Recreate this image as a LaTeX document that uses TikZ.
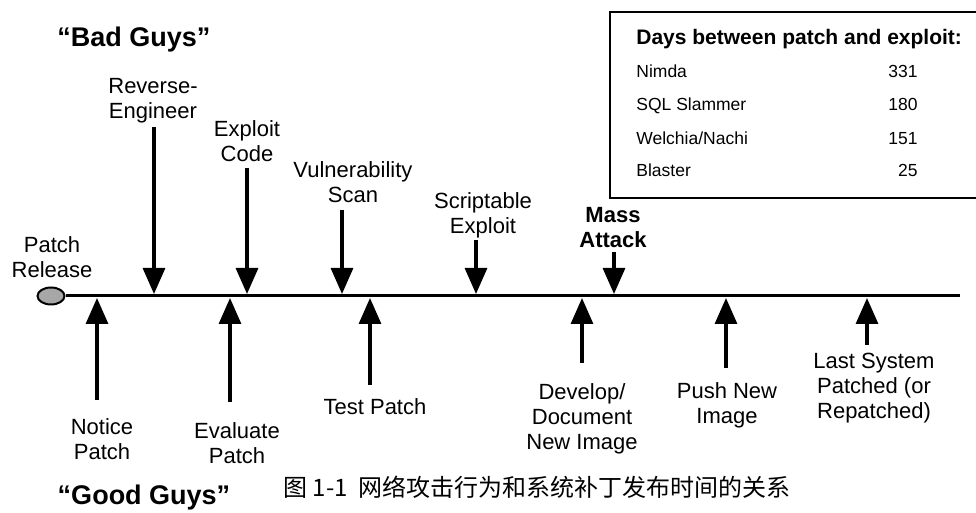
\documentclass[tikz,border=0pt]{standalone}
\usepackage{fontspec}
\setmainfont{Liberation Sans}
\newfontfamily\cjk{Noto Sans CJK SC}
\usetikzlibrary{arrows.meta,shapes.geometric}

\begin{document}
\begin{tikzpicture}[x=0.5pt,y=-0.5pt,>={Triangle[width=11pt,length=13pt]},
    event/.style={font=\fontsize{11}{12.5}\selectfont,align=center,inner sep=0pt},
    hit/.style={->,line width=1.6pt},
    guys/.style={font=\fontsize{13.5}{16}\selectfont\bfseries,inner sep=0pt,anchor=base},
    row/.style={font=\fontsize{8.75}{10}\selectfont,inner sep=0pt}]
  \useasboundingbox (0,0) rectangle (976,513);

  % timeline
  \node[ellipse,draw,line width=1pt,fill=gray!85!black!60,minimum width=13.5pt,
        minimum height=8.5pt,inner sep=0pt] (pr) at (51,296) {};
  \coordinate (end) at (960,296);
  \draw[line width=1.5pt] (pr.east) -- (end);
  \node[event,anchor=south] (prl) at (52,278) {Patch\\Release};

  \node[guys] (bad) at (134,47) {“Bad Guys”};
  \node[guys] (good) at (144,505) {“Good Guys”};

  % attacker side
  \coordinate (reT) at (154,294);
  \coordinate (ecT) at (247,294);
  \coordinate (vsT) at (342,294);
  \coordinate (seT) at (476,294);
  \coordinate (maT) at (614,294);

  \node[event,anchor=south] (re) at (153,123) {Reverse-\\Engineer};
  \node[event,anchor=south] (ec) at (247,162) {Exploit\\Code};
  \node[event,anchor=south] (vs) at (353,203) {Vulnerability\\Scan};
  \node[event,anchor=south] (se) at (483,238) {Scriptable\\Exploit};
  \node[event,anchor=south,font=\fontsize{11}{12.5}\selectfont\bfseries] (ma) at (613,248) {Mass\\Attack};

  \draw[hit,shorten <=2pt] (re.south -| reT) -- (reT);
  \draw[hit,shorten <=3pt] (ec.south -| ecT) -- (ecT);
  \draw[hit,shorten <=3.5pt] (vs.south -| vsT) -- (vsT);
  \draw[hit,shorten <=1pt] (se.south -| seT) -- (seT);
  \draw[hit,shorten <=2pt] (ma.south -| maT) -- (maT);

  % defender side
  \coordinate (npT) at (97,298);
  \coordinate (epT) at (230,298);
  \coordinate (tpT) at (370,298);
  \coordinate (ddT) at (582,298);
  \coordinate (pnT) at (726,298);
  \coordinate (lsT) at (867,298);

  \node[event,anchor=north] (np) at (102,418) {Notice\\Patch};
  \node[event,anchor=north] (ep) at (237,422) {Evaluate\\Patch};
  \node[event,anchor=north] (tp) at (375,398) {Test Patch};
  \node[event,anchor=north] (dd) at (582,383) {Develop/\\Document\\New Image};
  \node[event,anchor=north] (pn) at (727,382) {Push New\\Image};
  \node[event,anchor=north] (ls) at (874,353) {Last System\\Patched (or\\Repatched)};

  \draw[hit,shorten <=9pt] (np.north -| npT) -- (npT);
  \draw[hit,shorten <=10pt] (ep.north -| epT) -- (epT);
  \draw[hit,shorten <=6.5pt] (tp.north -| tpT) -- (tpT);
  \draw[hit,shorten <=10pt] (dd.north -| ddT) -- (ddT);
  \draw[hit,shorten <=7pt] (pn.north -| pnT) -- (pnT);
  \draw[hit,shorten <=4pt] (ls.north -| lsT) -- (lsT);

  % table of days
  \draw[line width=1pt] (610,12) rectangle (990,198);
  \node[anchor=base west,inner sep=0pt,font=\fontsize{10.5}{12}\selectfont\bfseries] (days) at (636,45) {Days between patch and exploit:};
  \node[row,anchor=base west] (w1) at (636,78) {Nimda};
  \node[row,anchor=base east] (d1) at (918,78) {331};
  \node[row,anchor=base west] (w2) at (636,111) {SQL Slammer};
  \node[row,anchor=base east] (d2) at (918,111) {180};
  \node[row,anchor=base west] (w3) at (636,145) {Welchia/Nachi};
  \node[row,anchor=base east] (d3) at (918,145) {151};
  \node[row,anchor=base west] (w4) at (636,177) {Blaster};
  \node[row,anchor=base east] (d4) at (918,177) {25};

  % caption
  \node[anchor=base west,inner sep=0pt,font=\cjk\fontsize{12}{14}\selectfont] (cap) at (283,497) {图 1-1\ \ 网络攻击行为和系统补丁发布时间的关系};
\end{tikzpicture}
\end{document}
